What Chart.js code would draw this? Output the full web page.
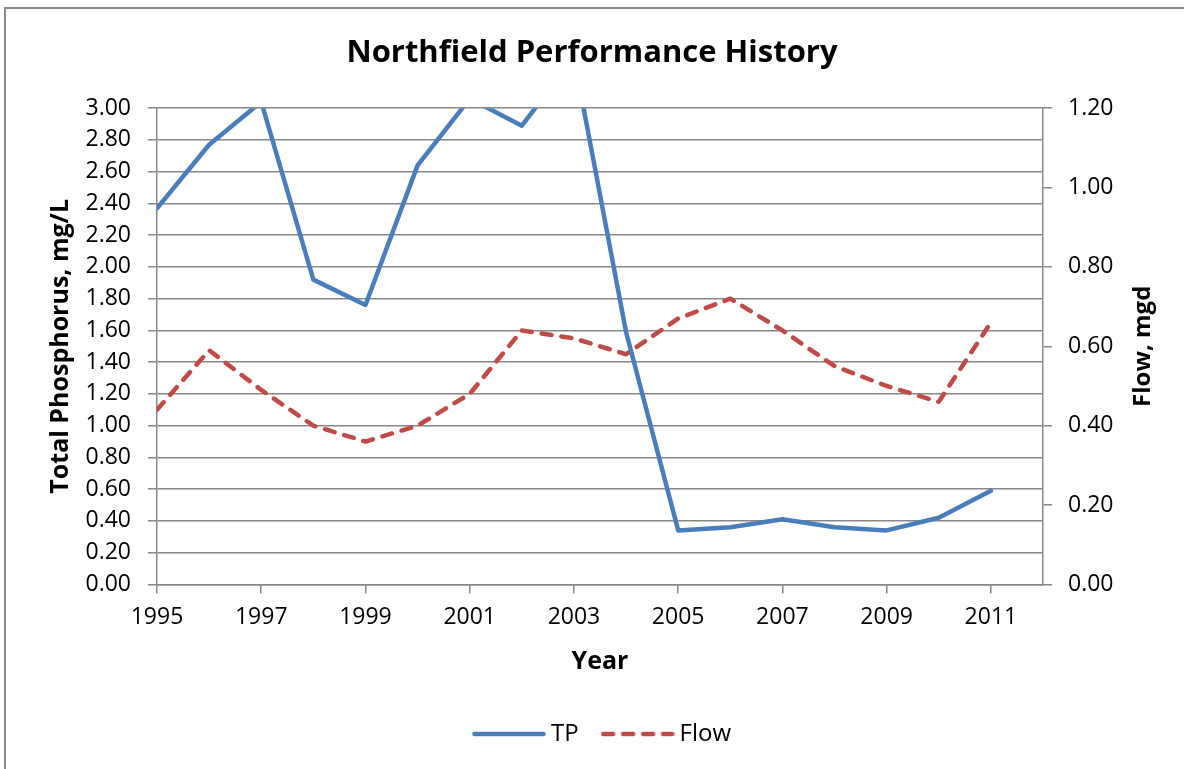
<!DOCTYPE html>
<html>
<head>
<meta charset="utf-8">
<title>Northfield Performance History</title>
<script src="https://cdn.jsdelivr.net/npm/chart.js@4.4.1/dist/chart.umd.min.js"></script>
<style>
    html, body { margin: 0; padding: 0; background: #fff; }
    #wrap { width: 1184px; height: 769px; }
</style>
</head>
<body>
<div id="wrap"><canvas id="perfChart" width="1184" height="769"></canvas></div>
<script>
var years = [1995, 1996, 1997, 1998, 1999, 2000, 2001, 2002, 2003, 2004, 2005, 2006, 2007, 2008, 2009, 2010, 2011];
var tpValues = [2.37, 2.77, 3.04, 1.92, 1.76, 2.64, 3.06, 2.89, 3.32, 1.59, 0.34, 0.36, 0.41, 0.36, 0.34, 0.42, 0.59];
var flowValues = [0.44, 0.59, 0.49, 0.40, 0.36, 0.40, 0.48, 0.64, 0.62, 0.58, 0.67, 0.72, 0.64, 0.55, 0.50, 0.46, 0.66];
var yearTicks = [1995, 1997, 1999, 2001, 2003, 2005, 2007, 2009, 2011];
var titleText = "Northfield Performance History";
var tpAxisTitle = "Total Phosphorus, mg/L";
var flowAxisTitle = "Flow, mgd";
var xAxisTitle = "Year";

var FONT = "'Open Sans', 'Liberation Sans', sans-serif";
var GRID = "#878787";
var TP_COLOR = "#4a7ebb";
var FLOW_COLOR = "#be4b48";
var LINE_W = 4.5;

var perfChart = {
    cachDom: function() {
        this.$canvas = document.getElementById("perfChart");
    },
    init: function() {
        Chart.defaults.font.family = FONT;
        Chart.defaults.color = "#000";
        this.cachDom();
        this.drawChart();
    },
    points: function(values) {
        return years.map(function(yr, i) {
            return { x: yr, y: values[i] };
        });
    },
    // little line sample for the legend (keeps the dash visible)
    legendSwatch: function(color, dash) {
        var c = document.createElement("canvas");
        c.width = 74;
        c.height = 8;
        var ctx = c.getContext("2d");
        ctx.strokeStyle = color;
        ctx.lineWidth = LINE_W;
        ctx.lineCap = "round";
        ctx.setLineDash(dash);
        ctx.beginPath();
        ctx.moveTo(2.5, 4);
        ctx.lineTo(71.5, 4);
        ctx.stroke();
        return c;
    },
    // outer frame + right axis title (Excel puts it bottom-to-top)
    framePlugin: {
        id: "frame",
        afterLayout: function(chart) {
            // Excel centres the legend a bit right of the canvas centre
            chart.legend.left += 13;
            chart.legend.right += 13;
        },
        beforeDraw: function(chart) {
            var ctx = chart.ctx;
            ctx.save();
            ctx.fillStyle = "#fff";
            ctx.fillRect(0, 0, chart.width, chart.height);
            ctx.strokeStyle = "#888";
            ctx.lineWidth = 2;
            ctx.strokeRect(5, 8, 1250, 850);
            ctx.restore();
        },
        afterDraw: function(chart) {
            var ctx = chart.ctx;
            var area = chart.chartArea;
            ctx.save();
            ctx.font = "bold 24px " + FONT;
            ctx.fillStyle = "#000";
            ctx.textAlign = "center";
            ctx.textBaseline = "middle";
            ctx.translate(1143, (area.top + area.bottom) / 2);
            ctx.rotate(-Math.PI / 2);
            ctx.fillText(flowAxisTitle, 0, 0);
            ctx.restore();
        }
    },
    drawChart: function() {
        var data = {
            datasets: [{
                label: "TP",
                data: this.points(tpValues),
                yAxisID: "yTP",
                borderColor: TP_COLOR,
                backgroundColor: TP_COLOR,
                borderWidth: LINE_W,
                borderJoinStyle: "round",
                borderCapStyle: "round",
                pointRadius: 0,
                pointStyle: this.legendSwatch(TP_COLOR, []),
                tension: 0,
                clip: 0
            }, {
                label: "Flow",
                data: this.points(flowValues),
                yAxisID: "yFlow",
                borderColor: FLOW_COLOR,
                backgroundColor: FLOW_COLOR,
                borderWidth: LINE_W,
                borderDash: [10, 10],
                borderJoinStyle: "round",
                borderCapStyle: "round",
                pointRadius: 0,
                pointStyle: this.legendSwatch(FLOW_COLOR, [10, 10]),
                tension: 0,
                clip: 0
            }]
        };
        new Chart(this.$canvas, {
            type: "line",
            data: data,
            plugins: [this.framePlugin],
            options: {
                responsive: false,
                animation: false,
                layout: { padding: { top: 8, bottom: 13, left: 0, right: 0 } },
                plugins: {
                    tooltip: { enabled: false },
                    title: {
                        display: true,
                        text: titleText,
                        font: { size: 31, weight: "bold" },
                        color: "#000",
                        padding: { top: 27, bottom: 36 }
                    },
                    legend: {
                        position: "bottom",
                        labels: {
                            usePointStyle: true,
                            pointStyleWidth: 60,
                            boxHeight: 24,
                            padding: 29,
                            font: { size: 24 },
                            color: "#000"
                        }
                    }
                },
                scales: {
                    x: {
                        type: "linear",
                        min: 1995,
                        max: 2012,
                        afterBuildTicks: function(scale) {
                            scale.ticks = yearTicks.map(function(v) { return { value: v }; });
                        },
                        ticks: {
                            font: { size: 23 },
                            padding: 10,
                            maxRotation: 0,
                            autoSkip: false,
                            callback: function(v) { return String(v); }
                        },
                        grid: { drawOnChartArea: false, tickLength: 9, color: GRID, lineWidth: 1.5 },
                        border: { color: GRID, width: 1.5 },
                        title: {
                            display: true,
                            text: xAxisTitle,
                            font: { size: 25, weight: "bold" },
                            padding: { top: 6, bottom: 16 }
                        }
                    },
                    yTP: {
                        position: "left",
                        min: 0,
                        max: 3,
                        afterFit: function(scale) { scale.width = 157; },
                        ticks: {
                            stepSize: 0.2,
                            font: { size: 23 },
                            padding: 17,
                            callback: function(v) { return v.toFixed(2); }
                        },
                        grid: { color: GRID, lineWidth: 1.5, tickLength: 9 },
                        border: { color: GRID, width: 1.5 },
                        title: {
                            display: true,
                            text: tpAxisTitle,
                            font: { size: 25, weight: "bold" },
                            padding: { top: 46, bottom: 0 }
                        }
                    },
                    yFlow: {
                        position: "right",
                        min: 0,
                        max: 1.2,
                        afterFit: function(scale) { scale.width = 141; },
                        ticks: {
                            stepSize: 0.2,
                            font: { size: 23 },
                            padding: 16,
                            callback: function(v) { return v.toFixed(2); }
                        },
                        grid: { drawOnChartArea: false, color: GRID, lineWidth: 1.5, tickLength: 9 },
                        border: { color: GRID, width: 1.5 }
                    }
                }
            }
        });
    }
};
perfChart.init();
</script>
</body>
</html>
